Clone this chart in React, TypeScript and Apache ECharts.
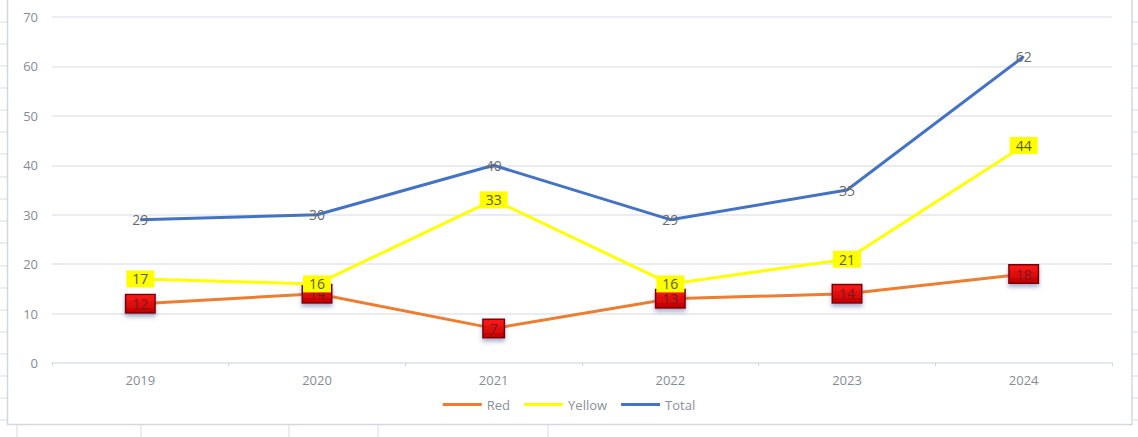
import React, { useEffect, useRef } from "react";
import * as echarts from "echarts";

const years = ["2019", "2020", "2021", "2022", "2023", "2024"];
const redValues = [12, 14, 7, 13, 14, 18];
const yellowValues = [17, 16, 33, 16, 21, 44];
const totalValues = [29, 30, 40, 29, 35, 62];

const sheetRowLines = [22, 44, 66, 88, 110, 132, 154, 177, 199, 221, 243, 266, 288, 310, 332, 354, 376, 398, 420];
const sheetColLines = [17, 141, 289, 378, 548];

export default function App() {
  const ref = useRef<HTMLDivElement>(null);
  useEffect(() => {
    if (!ref.current) return;
    const chart = echarts.init(ref.current, null, { renderer: "svg" });
    const gridColor = "#e3e6ee";
    const sheetColor = "#d8dce5";
    const graphics: any[] = [];
    sheetRowLines.forEach((y) => {
      graphics.push({ type: "line", shape: { x1: 0, y1: y, x2: 7, y2: y }, style: { stroke: sheetColor, lineWidth: 1 }, silent: true });
      graphics.push({ type: "line", shape: { x1: 1132, y1: y, x2: 1138, y2: y }, style: { stroke: sheetColor, lineWidth: 1 }, silent: true });
    });
    sheetColLines.forEach((x) => {
      graphics.push({ type: "line", shape: { x1: x, y1: 425, x2: x, y2: 437 }, style: { stroke: sheetColor, lineWidth: 1 }, silent: true });
    });
    graphics.push({
      type: "rect",
      shape: { x: 7.5, y: -5, width: 1124.5, height: 429.5 },
      style: { fill: "none", stroke: "#d3d7e0", lineWidth: 1.5 },
      silent: true,
      z: -1,
    });

    const labelFont = { fontFamily: "Open Sans", fontSize: 14, fontWeight: 500 as any };

    chart.setOption({
      animation: false,
      backgroundColor: "#ffffff",
      graphic: graphics,
      grid: { left: 52, right: 26, top: 17, bottom: 74 },
      legend: {
        data: ["Red", "Yellow", "Total"],
        left: "center",
        top: 393,
        icon: "rect",
        itemWidth: 39,
        itemHeight: 3,
        itemGap: 14,
        textStyle: { color: "#8a8f9c", fontSize: 13, fontFamily: "Open Sans", fontWeight: 500 },
      },
      xAxis: {
        type: "category",
        data: years,
        boundaryGap: true,
        axisLine: { show: true, lineStyle: { color: gridColor, width: 1.5 } },
        axisTick: { show: true, length: 3, lineStyle: { color: "#d0d4dc" } },
        axisLabel: { color: "#868b99", fontSize: 13, fontFamily: "Open Sans", fontWeight: 500, margin: 10 },
      },
      yAxis: {
        type: "value",
        min: 0,
        max: 70,
        interval: 10,
        axisLine: { show: false },
        axisTick: { show: false },
        splitLine: { lineStyle: { color: gridColor, width: 1.5 } },
        axisLabel: { color: "#868b99", fontSize: 13, fontFamily: "Open Sans", fontWeight: 500, margin: 14 },
      },
      series: [
        {
          name: "Red",
          type: "line",
          data: redValues,
          symbol: "rect",
          symbolSize: 1,
          itemStyle: { color: "#ED7D31" },
          lineStyle: { color: "#ED7D31", width: 3 },
          z: 3,
          label: {
            show: true,
            position: "inside",
            ...labelFont,
            color: "#7a1a1a",
            backgroundColor: {
              type: "linear",
              x: 0, y: 0, x2: 0, y2: 1,
              colorStops: [
                { offset: 0, color: "#ff1a1a" },
                { offset: 1, color: "#c00000" },
              ],
            },
            borderColor: "#7a0000",
            borderWidth: 1.5,
            padding: [2, 6, 1, 6],
            shadowColor: "rgba(60,80,140,0.45)",
            shadowBlur: 4,
            shadowOffsetY: 3,
          },
        },
        {
          name: "Yellow",
          type: "line",
          data: yellowValues,
          symbol: "rect",
          symbolSize: 1,
          itemStyle: { color: "#FFFF00" },
          lineStyle: { color: "#FFFF00", width: 3 },
          z: 4,
          label: {
            show: true,
            position: "inside",
            ...labelFont,
            color: "#5a5a30",
            backgroundColor: "#FFFF00",
            padding: [2, 6, 1, 6],
          },
        },
        {
          name: "Total",
          type: "line",
          data: totalValues,
          symbol: "rect",
          symbolSize: 1,
          itemStyle: { color: "#4472C4" },
          lineStyle: { color: "#4472C4", width: 3 },
          z: 2,
          label: {
            show: true,
            position: "inside",
            ...labelFont,
            color: "#6b6b6b",
          },
        },
      ],
    });
    return () => chart.dispose();
  }, []);
  return (
    <div
      ref={ref}
      style={{ position: "fixed", left: 0, top: 0, width: 1138, height: 437 }}
    />
  );
}
